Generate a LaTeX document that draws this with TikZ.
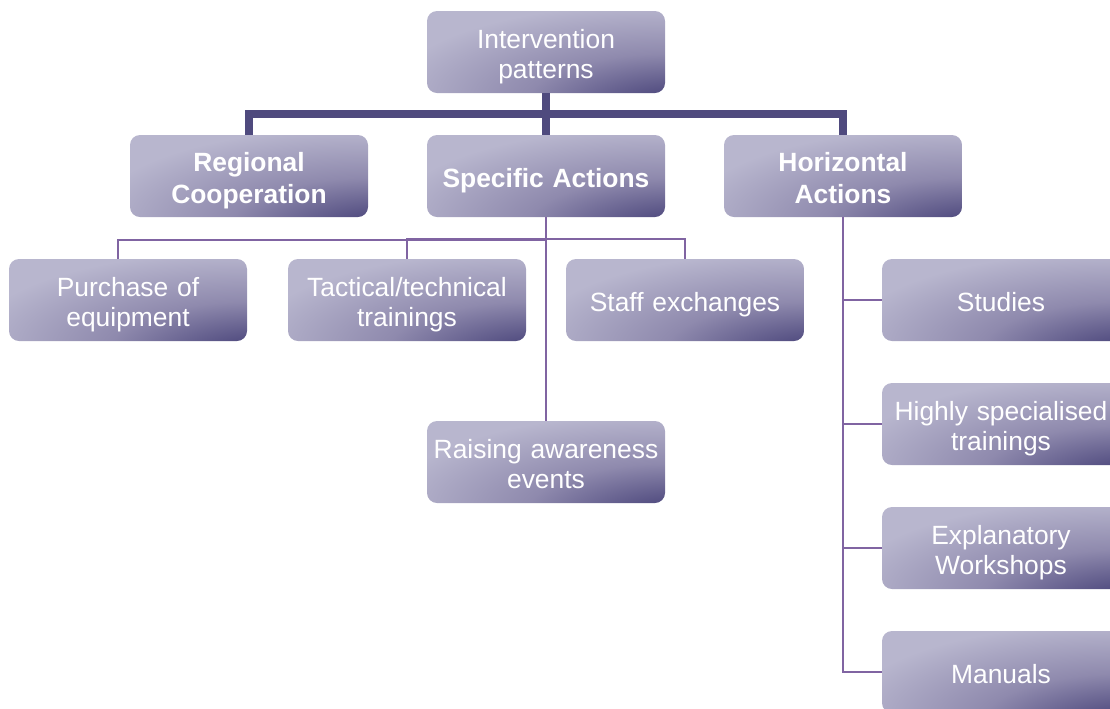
\documentclass[tikz,border=0pt]{standalone}
\usepackage{fontspec}
\setmainfont{Liberation Sans}
\usetikzlibrary{calc}
\definecolor{barcol}{HTML}{4F4A7E}
\definecolor{linkcol}{HTML}{8064A2}
\pgfdeclareradialshading{boxshade}{\pgfpoint{32bp}{-38bp}}{%
  rgb(0bp)=(0.30,0.28,0.48);
  rgb(12bp)=(0.33,0.31,0.51);
  rgb(30bp)=(0.56,0.54,0.68);
  rgb(54bp)=(0.722,0.714,0.808);
  rgb(160bp)=(0.722,0.714,0.808)}
\tikzset{
  box/.style={rounded corners=7.5pt, shading=boxshade, text=white,
    text width=169.5pt, inner sep=4.5pt, minimum height=61.5pt,
    align=center, font=\fontsize{19.8}{22.5}\selectfont,
    execute at begin node={\rule{0pt}{1.05em}},
    execute at end node={\rule[-0.212em]{0pt}{0.212em}}},
  headbox/.style={box, font=\fontsize{19.8}{24}\selectfont\bfseries},
  bar/.style={barcol, line width=6pt},
  link/.style={linkcol, line width=1.5pt}
}
\begin{document}
\begin{tikzpicture}[x=0.75pt,y=-0.75pt]
\useasboundingbox (0,0) rectangle (1110,708);
\clip (0,0) rectangle (1110,708);
% top level
\node[box] (top) at (546,52) {Intervention\\patterns};
\node[headbox] (reg) at (249,176) {Regional\\Cooperation};
\node[headbox] (spec) at (546,176) {Specific Actions};
\node[headbox] (horz) at (843,176) {Horizontal\\Actions};
% specific actions
\node[box] (buy) at (128,300) {Purchase of\\equipment};
\node[box] (tact) at (407,300) {Tactical/technical\\trainings};
\node[box] (staff) at (685,300) {Staff exchanges};
\node[box] (raise) at (546,462) {Raising awareness\\events};
% horizontal actions
\node[box] (stud) at (1001,300) {Studies};
\node[box] (high) at (1001,424) {Highly specialised\\trainings};
\node[box] (expl) at (1001,548) {Explanatory\\Workshops};
\node[box] (man) at (1001,672) {Manuals};

\draw[bar] (top.south) -- ++(0,21) -| (reg.north);
\draw[bar] (top.south) -- ++(0,21) -| (horz.north);
\draw[bar] (top.south) -- (spec.north);

\draw[link] (spec.south) -- ++(0,23) -| ([xshift=-7.5pt]buy.north);
\draw[link] (spec.south) -- ++(0,22) -| (tact.north);
\draw[link] (spec.south) -- ++(0,22) -| (staff.north);
\draw[link] (spec.south) -- (raise.north);

\draw[link] (horz.south) |- (stud.west);
\draw[link] (horz.south) |- (high.west);
\draw[link] (horz.south) |- (expl.west);
\draw[link] (horz.south) |- (man.west);
\end{tikzpicture}
\end{document}
